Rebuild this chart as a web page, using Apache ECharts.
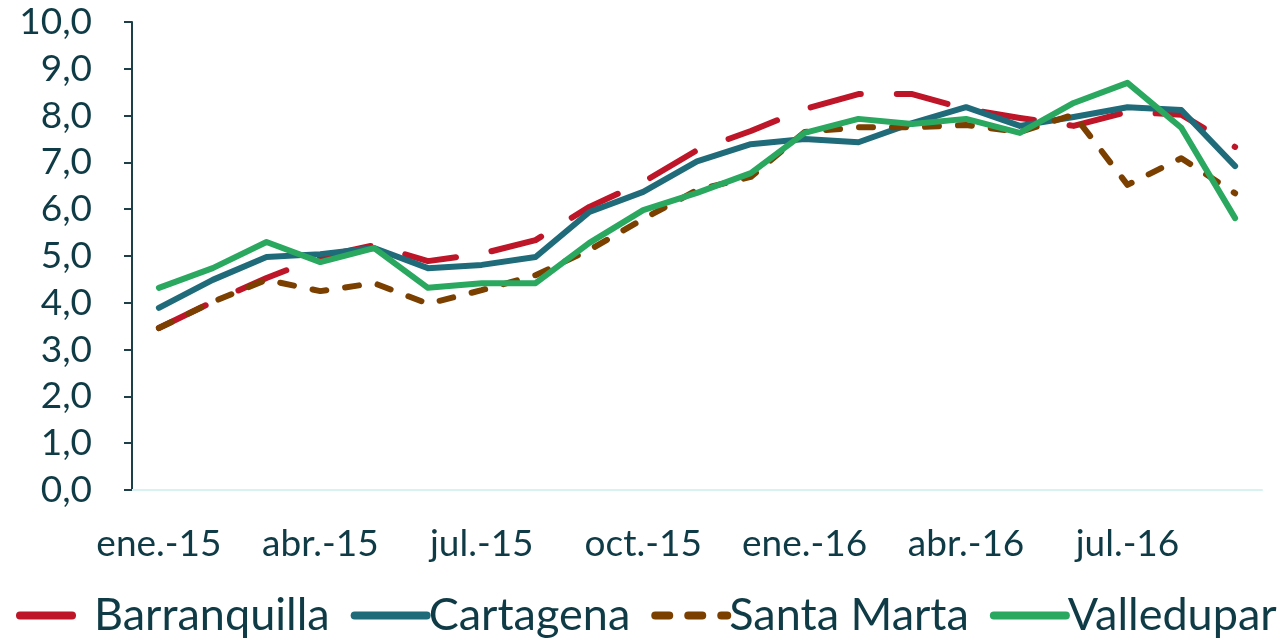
<!DOCTYPE html>
<html>
<head>
<meta charset="utf-8">
<script src="https://cdn.jsdelivr.net/npm/echarts@6/dist/echarts.min.js"></script>
<style>
html,body{margin:0;padding:0;background:#fff;}
#chart{width:1283px;height:642px;}
</style>
</head>
<body>
<div id="chart"></div>
<script>
// meses ene.-15 .. sep.-16
var meses=['ene.-15','feb.-15','mar.-15','abr.-15','may.-15','jun.-15','jul.-15','ago.-15','sep.-15','oct.-15','nov.-15','dic.-15',
  'ene.-16','feb.-16','mar.-16','abr.-16','may.-16','jun.-16','jul.-16','ago.-16','sep.-16'];
var barranquilla=[3.46,4.02,4.53,4.98,5.23,4.89,5.05,5.34,6.05,6.58,7.26,7.67,8.14,8.46,8.46,8.14,7.95,7.78,8.08,8.02,7.33];
var cartagena=[3.89,4.49,4.98,5.04,5.17,4.74,4.81,4.98,5.94,6.37,7.02,7.39,7.50,7.43,7.84,8.18,7.78,7.97,8.18,8.12,6.92];
var santaMarta=[3.46,4.02,4.49,4.25,4.42,3.98,4.27,4.59,5.13,5.79,6.41,6.69,7.65,7.75,7.75,7.80,7.65,8.02,6.52,7.09,6.34];
var valledupar=[4.32,4.74,5.30,4.87,5.17,4.32,4.42,4.42,5.28,5.98,6.35,6.77,7.63,7.93,7.82,7.93,7.63,8.27,8.70,7.74,5.81];

var TXT='#0f3b46';
var FONT='Lato';

var myChart=echarts.init(document.getElementById('chart'));

function serie(name,data,color,width,dash){
	return {
		name:name,
		type:'line',
		data:data,
		showSymbol:false,
		symbol:'none',
		animation:false,
		lineStyle:{color:color,width:width,type:dash,cap:'round',join:'round'},
		itemStyle:{color:color}
	};
}

var option={
	backgroundColor:'#fff',
	textStyle:{fontFamily:FONT,color:TXT},
	grid:{left:132,right:21,top:22,bottom:152},
	legend:{
		bottom:4,
		left:16,
		width:1400,
		padding:0,
		itemWidth:72,
		itemHeight:14,
		itemGap:21,
		itemStyle:{opacity:0},
		lineStyle:{width:8,cap:'round'},
		textStyle:{fontFamily:FONT,fontSize:45,color:TXT,padding:[0,0,0,-3]},
		data:['Barranquilla','Cartagena','Santa Marta','Valledupar']
	},
	xAxis:{
		type:'category',
		boundaryGap:true,
		data:meses,
		axisLine:{lineStyle:{color:'#d8f2f2',width:2}},
		axisTick:{interval:2,length:13,lineStyle:{color:'#d8f2f2',width:2}},
		axisLabel:{interval:2,margin:36,fontSize:37,color:TXT,fontFamily:FONT}
	},
	yAxis:{
		type:'value',
		min:0,
		max:10,
		interval:1,
		splitLine:{show:false},
		axisLine:{show:true,lineStyle:{color:'#1d3f48',width:2}},
		axisTick:{show:true,length:8,lineStyle:{color:'#1d3f48',width:2}},
		axisLabel:{margin:40,fontSize:37,color:TXT,fontFamily:FONT,
			formatter:function(v){return v.toFixed(1).replace('.',',');}}
	},
	series:[
		serie('Barranquilla',barranquilla,'#be1628',6,[52,36]),
		serie('Cartagena',cartagena,'#1f6b7a',6,'solid'),
		serie('Santa Marta',santaMarta,'#7b3f00',6,[14,19]),
		serie('Valledupar',valledupar,'#2aa85f',6,'solid')
	]
};
myChart.setOption(option);
</script>
</body>
</html>
